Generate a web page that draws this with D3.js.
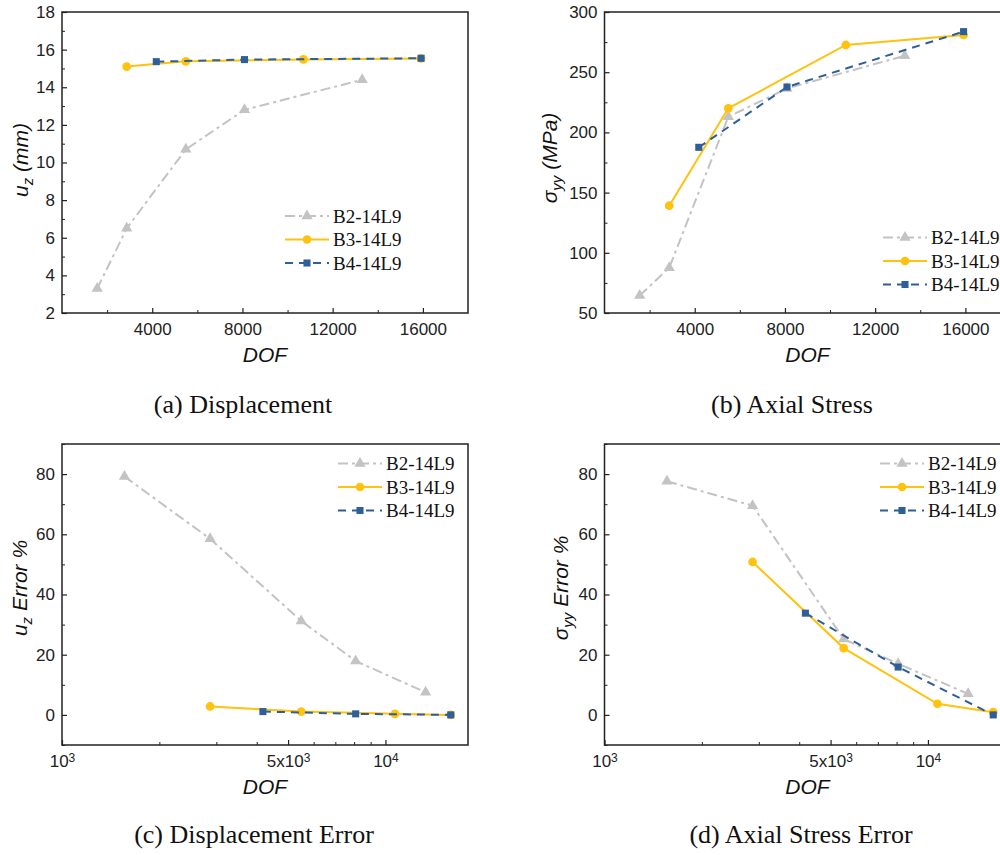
<!doctype html>
<html lang="en">
<head>
  <meta charset="utf-8">
  <title>B2/B3/B4-14L9 convergence</title>
  <script type="text/javascript" src="https://cdnjs.cloudflare.com/ajax/libs/d3/7.8.5/d3.min.js"></script>
  <style>
    body { margin: 0; background: #fff; }
  </style>
</head>
<body>
  <svg width="1000" height="855" id="svg"></svg>

<script type="text/javascript">

  // series names + DOF per model
  var seriesNames = ['B2-14L9', 'B3-14L9', 'B4-14L9'];
  var dofB2 = [1560, 2870, 5490, 8090, 13310];
  var dofB3 = [2870, 5490, 10700, 15920];
  var dofB4 = [4180, 8090, 15920];

  // (a) displacement u_z (mm)
  var uzB2 = [3.3, 6.5, 10.7, 12.8, 14.4];
  var uzB3 = [15.1, 15.38, 15.48, 15.53];
  var uzB4 = [15.36, 15.47, 15.54];

  // (b) axial stress sigma_yy (MPa)
  var syyB2 = [64.5, 87.6, 213, 236.5, 263.7];
  var syyB3 = [139.1, 220, 272.6, 280.9];
  var syyB4 = [187.6, 237.7, 283.7];

  // (c) displacement error %
  var uzErrB2 = [79.2, 58.5, 31.2, 17.9, 7.5];
  var uzErrB3 = [2.8, 1.1, 0.35, 0];
  var uzErrB4 = [1.1, 0.35, 0];

  // (d) axial stress error %
  var syyErrB2 = [77.6, 69.5, 25.2, 17, 7];
  var syyErrB3 = [50.8, 22.2, 3.7, 0.9];
  var syyErrB4 = [33.8, 15.9, 0];

  // tick labels
  var linXTicks = [4000, 8000, 12000, 16000];
  var linXMinor = [2000, 6000, 10000, 14000];
  var logXTicks = [1000, 5000, 10000];
  var logXMinor = [2000, 3000, 4000, 6000, 7000, 8000, 9000];
  var uzTicks = [2, 4, 6, 8, 10, 12, 14, 16, 18];
  var uzMinor = [3, 5, 7, 9, 11, 13, 15, 17];
  var syyTicks = [50, 100, 150, 200, 250, 300];
  var syyMinor = [75, 125, 175, 225, 275];
  var errTicks = [0, 20, 40, 60, 80];
  var errMinor = [-10, 10, 30, 50, 70, 90];

  var styles = [
    { color: '#c3c3c3', dash: '10,4,3,4', symbol: d3.symbolTriangle, size: 55 },
    { color: '#ffc20e', dash: null, symbol: d3.symbolCircle, size: 60 },
    { color: '#2f5f98', dash: '8,6', symbol: d3.symbolSquare, size: 50 }
  ];

  var svg = d3.select('#svg');
  var axisColor = '#222';

  function drawPanel(p) {
    var w = 406, h = 301;
    var g = svg.append('g').attr('transform', 'translate(' + p.left + ',' + p.top + ')');

    var x = p.log ? d3.scaleLog().domain([1000, 18000]).range([0, w])
                  : d3.scaleLinear().domain([0, 18000]).range([0, w]);
    var y = d3.scaleLinear().domain(p.yDomain).range([h, 0]);

    // minor ticks
    g.append('g').attr('transform', 'translate(0,' + h + ')')
      .call(d3.axisBottom(x).tickValues(p.log ? logXMinor : linXMinor).tickSize(-3).tickFormat(''))
      .attr('color', axisColor)
      .call(function(s) { s.select('.domain').remove(); });
    g.append('g')
      .call(d3.axisLeft(y).tickValues(p.yMinor).tickSize(-3).tickFormat(''))
      .attr('color', axisColor)
      .call(function(s) { s.select('.domain').remove(); });

    // major ticks
    var xa = g.append('g').attr('transform', 'translate(0,' + h + ')')
      .call(d3.axisBottom(x).tickValues(p.log ? logXTicks : linXTicks)
        .tickFormat(d3.format('d')).tickSize(-5).tickPadding(10))
      .attr('color', axisColor)
      .attr('font-size', 17).attr('font-family', 'Liberation Sans, Arial, sans-serif');
    xa.select('.domain').remove();
    xa.selectAll('line').attr('stroke-width', 1.2);
    if (p.log) {
      xa.selectAll('text').each(function(d) {
        var t = d3.select(this).text('');
        var e = Math.floor(Math.log10(d) + 1e-9);
        var m = Math.round(d / Math.pow(10, e));
        t.append('tspan').text((m !== 1 ? m + 'x' : '') + '10');
        t.append('tspan').attr('dy', '-0.45em').attr('font-size', 12).text(e);
      });
    }

    var ya = g.append('g')
      .call(d3.axisLeft(y).tickValues(p.yTicks).tickSize(-5).tickPadding(7))
      .attr('color', axisColor)
      .attr('font-size', 17).attr('font-family', 'Liberation Sans, Arial, sans-serif');
    ya.select('.domain').remove();
    ya.selectAll('line').attr('stroke-width', 1.2);

    // frame
    g.append('rect').attr('width', w).attr('height', h)
      .attr('fill', 'none').attr('stroke', axisColor).attr('stroke-width', 1.5);

    // lines + markers
    p.series.forEach(function(s, i) {
      var st = styles[i];
      var pts = s[0].map(function(v, j) { return [v, s[1][j]]; });
      g.append('path')
        .datum(pts)
        .attr('d', d3.line().x(function(d) { return x(d[0]); }).y(function(d) { return y(d[1]); }))
        .attr('fill', 'none')
        .attr('stroke', st.color)
        .attr('stroke-width', 2)
        .attr('stroke-dasharray', st.dash);
      g.selectAll('.m' + i)
        .data(pts)
        .enter()
        .append('path')
        .attr('transform', function(d) { return 'translate(' + x(d[0]) + ',' + y(d[1]) + ')'; })
        .attr('d', d3.symbol().type(st.symbol).size(st.size))
        .attr('fill', st.color);
    });

    // legend
    seriesNames.forEach(function(name, i) {
      var st = styles[i];
      var ly = p.legend[1] + i * 23.5;
      svg.append('line')
        .attr('x1', p.legend[0]).attr('x2', p.legend[0] + 44)
        .attr('y1', ly).attr('y2', ly)
        .attr('stroke', st.color).attr('stroke-width', 2)
        .attr('stroke-dasharray', st.dash);
      svg.append('path')
        .attr('transform', 'translate(' + (p.legend[0] + 22) + ',' + ly + ')')
        .attr('d', d3.symbol().type(st.symbol).size(st.size))
        .attr('fill', st.color);
      svg.append('text')
        .attr('x', p.legend[0] + 48).attr('y', ly)
        .attr('dy', '0.35em')
        .attr('font-family', 'Liberation Serif, Times New Roman, serif')
        .attr('font-size', 19)
        .attr('fill', '#111')
        .text(name);
    });

    // x title
    g.append('text')
      .attr('x', w / 2).attr('y', h + 49)
      .attr('text-anchor', 'middle')
      .attr('font-family', 'Liberation Sans, Arial, sans-serif')
      .attr('font-style', 'italic')
      .attr('font-size', 21)
      .attr('fill', '#111')
      .text('DOF');

    // y title
    var yt = svg.append('text')
      .attr('transform', 'translate(' + p.yTitlePos[0] + ',' + p.yTitlePos[1] + ') rotate(-90)')
      .attr('text-anchor', 'middle')
      .attr('font-family', 'Liberation Sans, Arial, sans-serif')
      .attr('font-style', 'italic')
      .attr('font-size', 21)
      .attr('fill', '#111');
    yt.append('tspan').text(p.yTitle[0]);
    yt.append('tspan').attr('dy', '0.35em').attr('font-size', 15).text(p.yTitle[1]);
    yt.append('tspan').attr('dy', '-0.25em').text(p.yTitle[2]);

    // caption
    svg.append('text')
      .attr('x', p.caption[0]).attr('y', p.caption[1])
      .attr('text-anchor', 'middle')
      .attr('font-family', 'Liberation Serif, Times New Roman, serif')
      .attr('font-size', 26)
      .attr('fill', '#111')
      .text(p.caption[2]);
  }

  drawPanel({
    left: 62, top: 12, log: false,
    yDomain: [2, 18], yTicks: uzTicks, yMinor: uzMinor,
    series: [[dofB2, uzB2], [dofB3, uzB3], [dofB4, uzB4]],
    legend: [285, 216],
    yTitle: ['u', 'z', ' (mm)'], yTitlePos: [28, 160],
    caption: [243, 413, '(a) Displacement']
  });

  drawPanel({
    left: 604.5, top: 12, log: false,
    yDomain: [50, 300], yTicks: syyTicks, yMinor: syyMinor,
    series: [[dofB2, syyB2], [dofB3, syyB3], [dofB4, syyB4]],
    legend: [883, 237.5],
    yTitle: ['\u03c3', 'yy', ' (MPa)'], yTitlePos: [557, 158],
    caption: [792, 413, '(b) Axial Stress']
  });

  drawPanel({
    left: 62, top: 444, log: true,
    yDomain: [-10, 90], yTicks: errTicks, yMinor: errMinor,
    series: [[dofB2, uzErrB2], [dofB3, uzErrB3], [dofB4, uzErrB4]],
    legend: [338, 463.5],
    yTitle: ['u', 'z', ' Error %'], yTitlePos: [27, 588],
    caption: [254, 843, '(c) Displacement Error']
  });

  drawPanel({
    left: 604.5, top: 444, log: true,
    yDomain: [-10, 90], yTicks: errTicks, yMinor: errMinor,
    series: [[dofB2, syyErrB2], [dofB3, syyErrB3], [dofB4, syyErrB4]],
    legend: [880, 463.5],
    yTitle: ['\u03c3', 'yy', ' Error %'], yTitlePos: [568, 588],
    caption: [801, 843, '(d) Axial Stress Error']
  });

</script>
</body>
</html>
